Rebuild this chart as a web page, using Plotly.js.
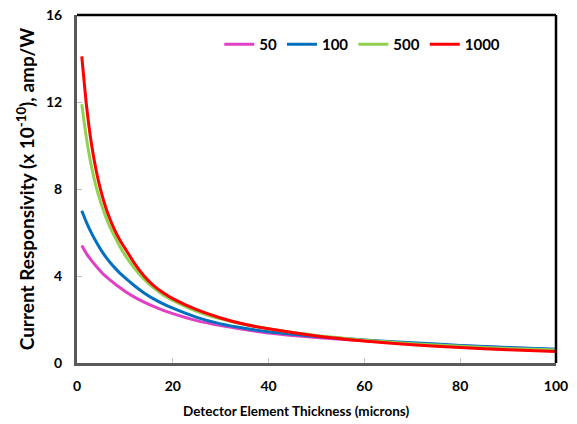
<!DOCTYPE html>
<html>
<head>
<meta charset="utf-8">
<script src="https://cdn.plot.ly/plotly-3.0.1.min.js"></script>
<style>html,body{margin:0;padding:0;background:#fff;}#chart{width:577px;height:424px;}</style>
</head>
<body>
<div id="chart"></div>
<script>
// Detector element thickness (microns)
const thickness = [1, 2, 3, 4, 5, 6, 7, 8, 9, 10, 12, 14, 16, 18, 20, 25, 30, 35, 40, 50, 60, 70, 80, 90, 100];
// Current responsivity (x 10^-10 amp/W) per series
const r50   = [5.4, 5.02, 4.72, 4.45, 4.2, 3.98, 3.8, 3.62, 3.46, 3.3, 3.03, 2.8, 2.6, 2.42, 2.27, 1.95, 1.72, 1.54, 1.38, 1.17, 1.02, 0.9, 0.79, 0.7, 0.62];
const r100  = [7.0, 6.45, 5.98, 5.57, 5.2, 4.88, 4.6, 4.35, 4.12, 3.92, 3.55, 3.22, 2.95, 2.72, 2.52, 2.1, 1.8, 1.6, 1.44, 1.22, 1.06, 0.93, 0.81, 0.71, 0.63];
const r500  = [11.9, 10.3, 9.05, 8.1, 7.35, 6.72, 6.2, 5.75, 5.33, 4.97, 4.35, 3.85, 3.45, 3.13, 2.88, 2.38, 2.03, 1.77, 1.57, 1.26, 1.05, 0.89, 0.77, 0.67, 0.6];
const r1000 = [14.1, 11.8, 10.1, 8.85, 7.9, 7.15, 6.55, 6.05, 5.63, 5.28, 4.58, 4.0, 3.56, 3.23, 2.96, 2.45, 2.07, 1.78, 1.57, 1.24, 1.01, 0.84, 0.71, 0.61, 0.53];
const seriesNames = ['50', '100', '500', '1000'];
const seriesColors = ['#E040C4', '#0070C0', '#92D050', '#FF0000'];
const seriesValues = [r50, r100, r500, r1000];
const xTicks = [0, 20, 40, 60, 80, 100];
const yTicks = [0, 4, 8, 12, 16];

const traces = seriesValues.map((vals, i) => ({
  x: thickness, y: vals, type: 'scatter', mode: 'lines', name: seriesNames[i],
  line: {color: seriesColors[i], width: 3, shape: 'spline', smoothing: 0.5}
}));

const tickFont = {family: 'Lato, "Open Sans", sans-serif', size: 14, color: '#000', weight: 'bold'};

const layout = {
  width: 577, height: 424,
  margin: {l: 77, r: 21, t: 15, b: 61},
  paper_bgcolor: '#fff', plot_bgcolor: '#fff',
  font: {family: 'Lato, "Open Sans", sans-serif', color: '#000'},
  showlegend: true,
  legend: {orientation: 'h', x: 0.297, xanchor: 'left', y: 0.915, yanchor: 'middle',
           font: {family: 'Lato, sans-serif', size: 15, color: '#000', weight: 'bold'},
           bgcolor: 'rgba(0,0,0,0)', borderwidth: 0, itemwidth: 30, tracegroupgap: 0},
  xaxis: {range: [0, 100], tickvals: xTicks, ticktext: xTicks.map(String), tickfont: tickFont,
          showgrid: false, zeroline: false, showline: true, linecolor: '#595959', linewidth: 2.5,
          ticks: 'inside', ticklen: 5, tickwidth: 1, tickcolor: '#BFBFBF', ticklabelstandoff: 9,
          fixedrange: true},
  yaxis: {range: [0, 16], tickvals: yTicks, ticktext: yTicks.map(String), tickfont: tickFont,
          showgrid: false, zeroline: false, showline: true, linecolor: '#595959', linewidth: 3,
          ticks: 'inside', ticklen: 5, tickwidth: 1, tickcolor: '#BFBFBF', ticklabelstandoff: 9,
          title: {text: 'Current Responsivity (x 10<sup>-10</sup>), amp/W', standoff: 7,
                  font: {family: 'Lato, sans-serif', size: 19, color: '#000', weight: 'bold'}},
          fixedrange: true},
  annotations: [{text: 'Detector Element Thickness (microns)', xref: 'paper', yref: 'paper',
                 x: 0.457, y: -0.137, xanchor: 'center', yanchor: 'middle', showarrow: false,
                 font: {family: 'Lato, sans-serif', size: 13.5, color: '#000', weight: 'bold'}}],
  shapes: [
    {type: 'line', xref: 'paper', yref: 'paper', x0: 0, x1: 1, y0: 1, y1: 1, line: {color: '#000', width: 2.5}},
    {type: 'line', xref: 'paper', yref: 'paper', x0: 1, x1: 1, y0: 0, y1: 1, line: {color: '#000', width: 2.5}}
  ]
};

Plotly.newPlot('chart', traces, layout, {staticPlot: true, displayModeBar: false});
</script>
</body>
</html>
